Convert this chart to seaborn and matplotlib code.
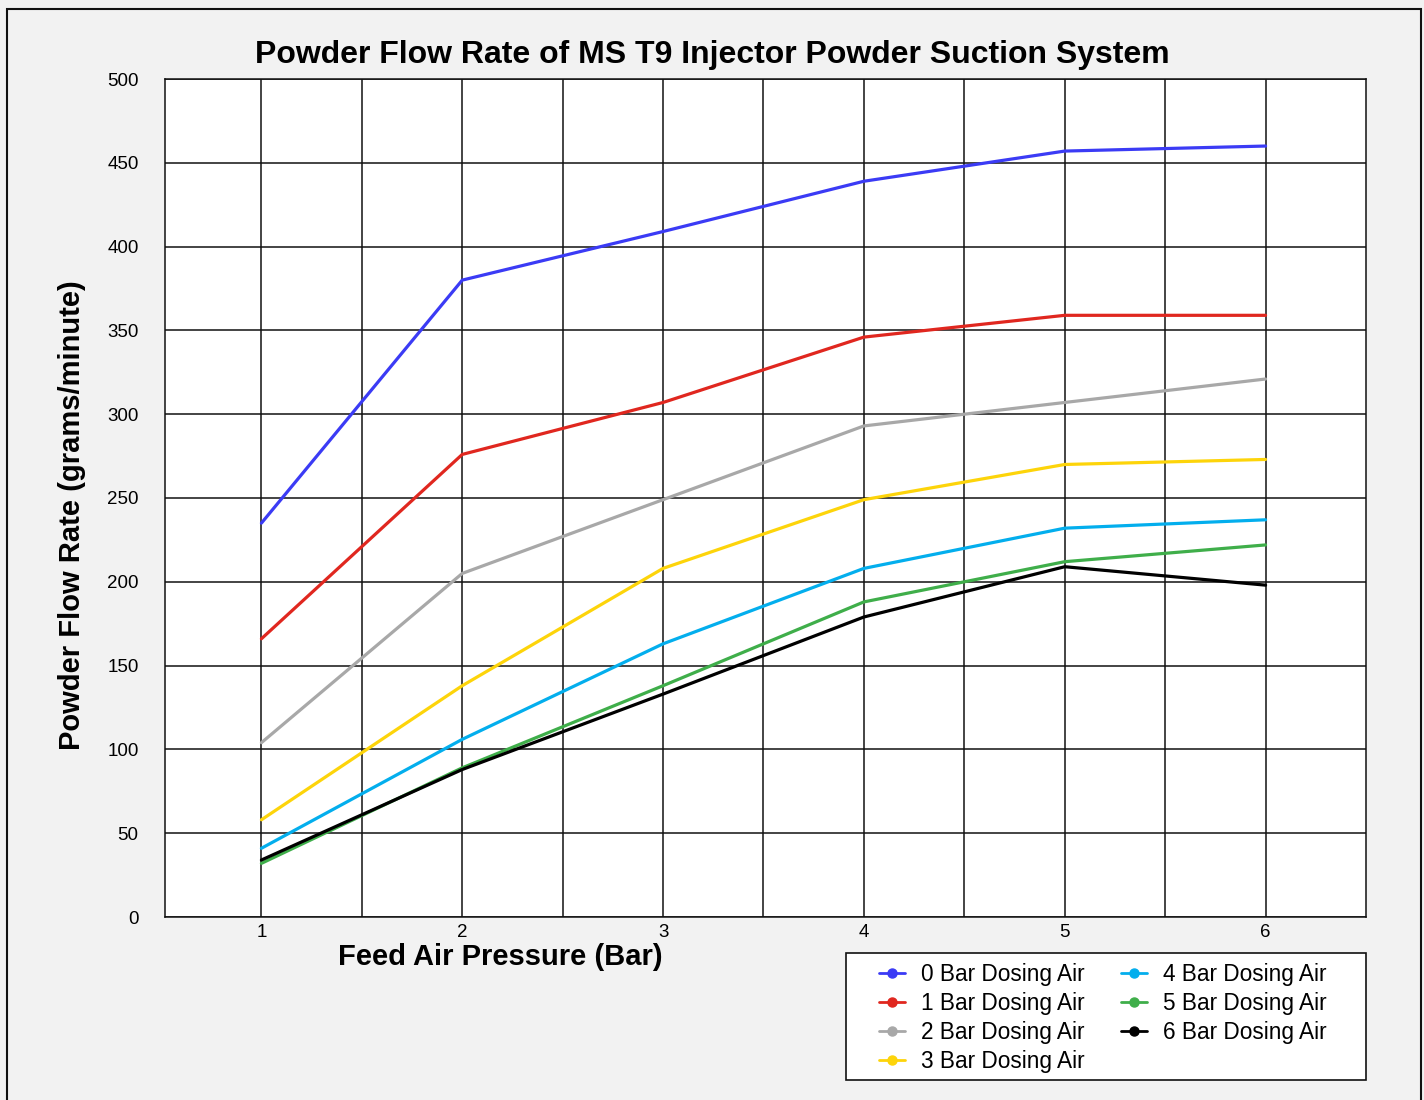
import numpy as np
import pandas as pd
import matplotlib
matplotlib.use("Agg")
import matplotlib.pyplot as plt
from matplotlib.lines import Line2D
from matplotlib.patches import Rectangle
import seaborn as sns

# feed air pressure (bar)
feed_pressure = [1, 2, 3, 4, 5, 6]

# powder flow rate (g/min) for each dosing air pressure
dosing_0 = [235, 380, 409, 439, 457, 460]
dosing_1 = [166, 276, 307, 346, 359, 359]
dosing_2 = [104, 205, 249, 293, 307, 321]
dosing_3 = [58, 138, 208, 249, 270, 273]
dosing_4 = [41, 106, 163, 208, 232, 237]
dosing_5 = [32, 89, 138, 188, 212, 222]
dosing_6 = [34, 88, 133, 179, 209, 198]

series_labels = [
    "0 Bar Dosing Air", "1 Bar Dosing Air", "2 Bar Dosing Air", "3 Bar Dosing Air",
    "4 Bar Dosing Air", "5 Bar Dosing Air", "6 Bar Dosing Air",
]
series_values = [dosing_0, dosing_1, dosing_2, dosing_3, dosing_4, dosing_5, dosing_6]
colors = ["#3b3bf5", "#e0271f", "#a8a8a8", "#fdd40a", "#03aeed", "#3fae4a", "#000000"]

y_ticks = [0, 50, 100, 150, 200, 250, 300, 350, 400, 450, 500]


def main():
    rows = []
    for label, values in zip(series_labels, series_values):
        for x, y in zip(feed_pressure, values):
            rows.append({"pressure": x, "flow": y, "series": label})
    df = pd.DataFrame(rows)

    sns.set_theme(style="white")
    plt.rcParams["font.family"] = ["Liberation Sans", "DejaVu Sans"]
    plt.rcParams["text.color"] = "black"
    plt.rcParams["xtick.color"] = "black"
    plt.rcParams["ytick.color"] = "black"

    fig = plt.figure(figsize=(14.24, 11), dpi=100, facecolor="#f2f2f2")
    ax = fig.add_axes([165 / 1424, 1 - 917 / 1100, (1366 - 165) / 1424, (917 - 79) / 1100])
    ax.set_facecolor("white")

    sns.lineplot(
        data=df, x="pressure", y="flow", hue="series",
        hue_order=series_labels, palette=colors,
        linewidth=2.3, ax=ax, legend=False,
    )

    ax.set_xlim(0.52, 6.5)
    ax.set_ylim(0, 500)
    ax.set_xticks(feed_pressure)
    ax.set_xticks(np.arange(1.5, 6.5, 1.0), minor=True)
    ax.set_yticks(y_ticks)
    ax.grid(True, which="both", color="#111111", linewidth=1.1)
    ax.set_axisbelow(True)
    ax.tick_params(axis="both", which="both", length=0)
    ax.tick_params(axis="x", pad=5, labelsize=13.5)
    ax.tick_params(axis="y", pad=19, labelsize=13.5)
    for spine in ax.spines.values():
        spine.set_color("#111111")
        spine.set_linewidth(1.1)
    ax.set_xlabel("")
    ax.set_ylabel("")

    fig.text(712 / 1424, 1 - 52 / 1100, "Powder Flow Rate of MS T9 Injector Powder Suction System",
             ha="center", va="center_baseline", fontsize=23, fontweight="bold")
    fig.text(500 / 1424, 1 - 957 / 1100, "Feed Air Pressure (Bar)",
             ha="center", va="center", fontsize=21, fontweight="bold")
    fig.text(72 / 1424, 1 - 515 / 1100, "Powder Flow Rate (grams/minute)",
             ha="center", va="center", rotation=90, fontsize=21, fontweight="bold")

    # legend lines carry a dot marker, the plotted lines don't
    handles = [
        Line2D([], [], color=c, linewidth=2, marker="o", markersize=6.5)
        for c in colors
    ]
    ax.legend(
        handles, series_labels, ncol=2, loc="upper left",
        bbox_to_anchor=(885 / 1424 - 0.004, 1 - 963 / 1100), bbox_transform=fig.transFigure,
        frameon=False, fontsize=16.3, handlelength=1.15, handletextpad=0.7,
        columnspacing=1.6, labelspacing=0.27, borderpad=0, borderaxespad=0,
    )

    fig.patches.append(Rectangle((846 / 1424, 1 - 1080 / 1100), 520 / 1424, 127 / 1100,
                                 transform=fig.transFigure, facecolor="white",
                                 edgecolor="#111111", linewidth=1.2, zorder=-1))
    fig.patches.append(Rectangle((7 / 1424, -0.01), 1414 / 1424, 1 - 9 / 1100 + 0.01,
                                 transform=fig.transFigure, facecolor="none",
                                 edgecolor="#111111", linewidth=1.5, zorder=-1))

    fig.savefig("out.png", dpi=100, facecolor=fig.get_facecolor())
    plt.close(fig)


if __name__ == "__main__":
    main()
